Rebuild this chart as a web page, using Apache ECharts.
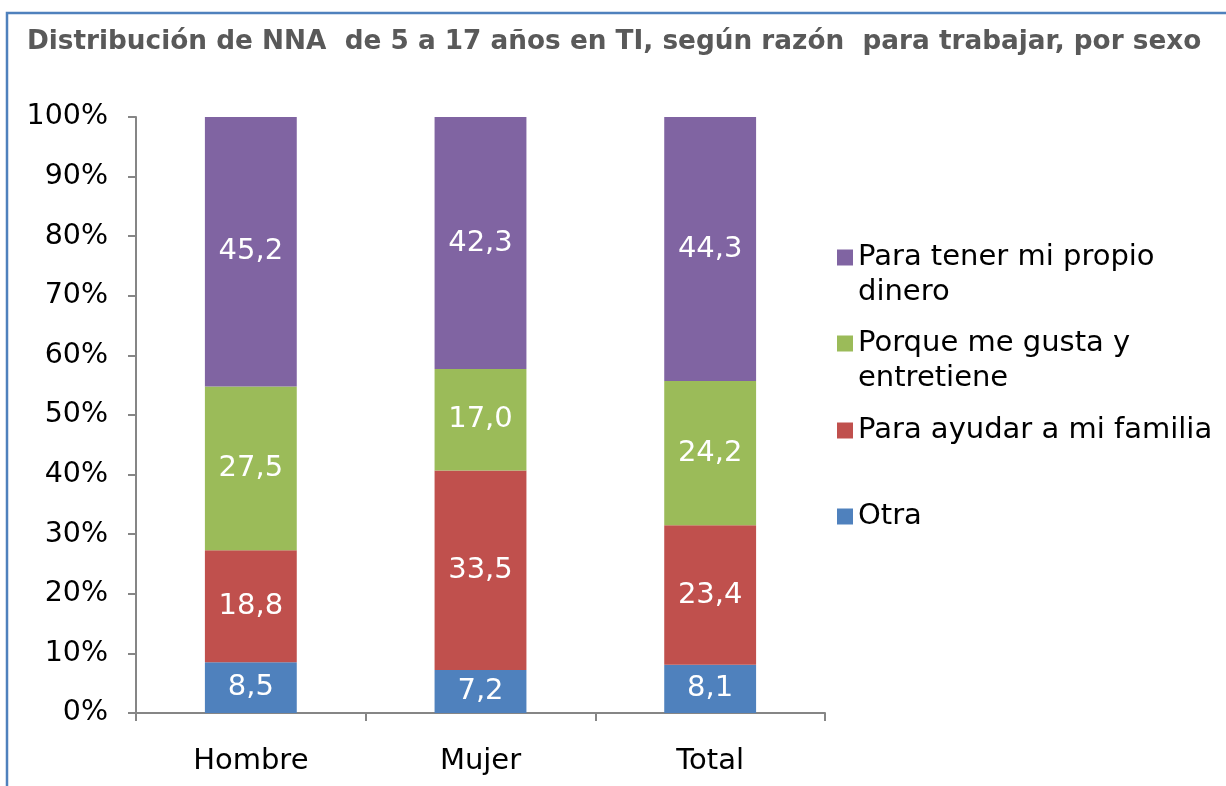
<!DOCTYPE html>
<html>
<head>
<meta charset="utf-8">
<script src="https://cdn.jsdelivr.net/npm/echarts@6/dist/echarts.min.js"></script>
<style>
  html, body { margin: 0; padding: 0; background: #fff; }
  #chart { width: 1226px; height: 786px; }
</style>
</head>
<body>
<div id="chart"></div>
<script>
const categories = ['Hombre', 'Mujer', 'Total'];
const otra = [8.5, 7.2, 8.1];
const ayudarFamilia = [18.8, 33.5, 23.4];
const meGusta = [27.5, 17.0, 24.2];
const propioDinero = [45.2, 42.3, 44.3];
const yTicks = [0, 10, 20, 30, 40, 50, 60, 70, 80, 90, 100];

const font = 'DejaVu Sans, Verdana, sans-serif';

const barSeries = (name, data, color) => ({
  name: name,
  type: 'bar',
  stack: 'total',
  barWidth: '40%',
  data: data,
  itemStyle: { color: color },
  label: {
    show: true,
    position: 'inside',
    color: '#fff',
    fontFamily: font,
    fontSize: 29,
    formatter: p => p.value.toFixed(1).replace('.', ',')
  }
});

// legend square sits beside the first line: an empty line above two-line
// entries keeps the first line in the middle of the text block
const legendAt = (name, text, top) => ({
  data: [name],
  orient: 'vertical',
  left: 837,
  top: top,
  padding: 0,
  itemWidth: 16,
  itemHeight: 16,
  itemGap: 0,
  icon: 'rect',
  selectedMode: false,
  formatter: () => (text.indexOf('\n') >= 0 ? '\n' + text : text),
  textStyle: {
    fontFamily: font,
    fontSize: 29,
    color: '#000',
    lineHeight: 35
  }
});

var myChart = echarts.init(document.getElementById('chart'));
option = {
  animation: false,
  title: {
    text: 'Distribución de NNA  de 5 a 17 años en TI, según razón  para trabajar, por sexo',
    left: 22,
    top: 24,
    textStyle: {
      fontFamily: font,
      fontWeight: 'bold',
      fontSize: 26.3,
      color: '#595959'
    }
  },
  graphic: [
    {
      type: 'rect',
      shape: { x: 7, y: 13, width: 1300, height: 900 },
      style: { fill: 'none', stroke: '#4F81BD', lineWidth: 2.5 },
      silent: true
    }
  ],
  legend: [
    legendAt('Para tener mi propio dinero', 'Para tener mi propio\ndinero', 205),
    legendAt('Porque me gusta y entretiene', 'Porque me gusta y\nentretiene', 291),
    legendAt('Para ayudar a mi familia', 'Para ayudar a mi familia', 413),
    legendAt('Otra', 'Otra', 499)
  ],
  grid: {
    left: 136,
    right: 401,
    top: 117,
    bottom: 73
  },
  xAxis: {
    type: 'category',
    data: categories,
    axisLine: { lineStyle: { color: '#868686', width: 2 } },
    axisTick: { show: true, length: 8, alignWithLabel: false, lineStyle: { color: '#868686', width: 2 } },
    axisLabel: { color: '#000', fontFamily: font, fontSize: 29, margin: 34 }
  },
  yAxis: {
    type: 'value',
    min: 0,
    max: 100,
    interval: 10,
    splitLine: { show: false },
    axisLine: { show: true, lineStyle: { color: '#868686', width: 2 } },
    axisTick: { show: true, length: 8, lineStyle: { color: '#868686', width: 2 } },
    axisLabel: {
      color: '#000',
      fontFamily: font,
      fontSize: 28.5,
      margin: 28,
      formatter: v => (yTicks.includes(v) ? v + '%' : '')
    }
  },
  series: [
    barSeries('Otra', otra, '#4F81BD'),
    barSeries('Para ayudar a mi familia', ayudarFamilia, '#C0504D'),
    barSeries('Porque me gusta y entretiene', meGusta, '#9BBB59'),
    barSeries('Para tener mi propio dinero', propioDinero, '#8064A2')
  ]
};
myChart.setOption(option);
</script>
</body>
</html>
